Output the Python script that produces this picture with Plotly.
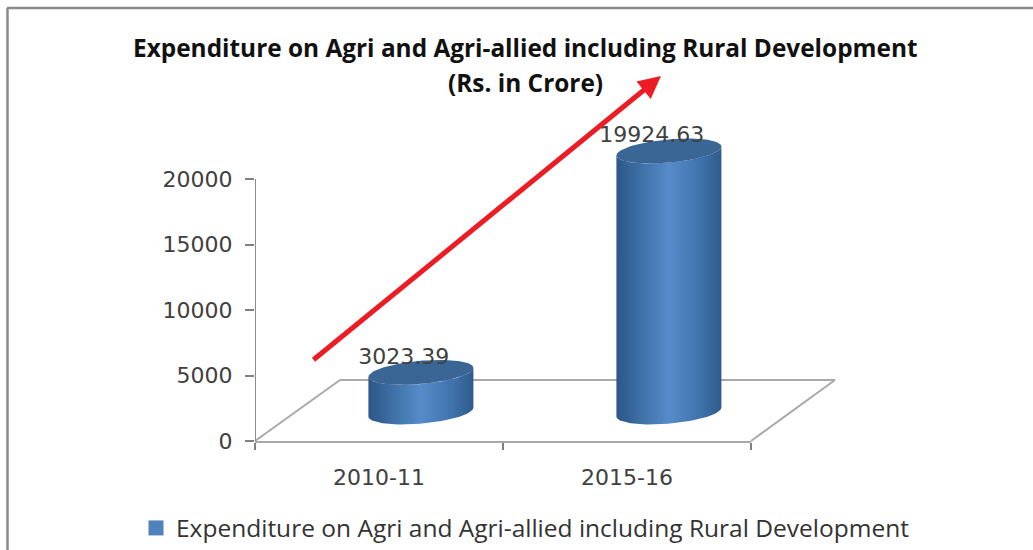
import numpy as np
import plotly.graph_objects as go

# --- data ---
categories = ["2010-11", "2015-16"]
values = [3023.39, 19924.63]
value_labels = ["3023.39", "19924.63"]
y_ticks = [0, 5000, 10000, 15000, 20000]
series_name = "Expenditure on Agri and Agri-allied including Rural Development"
title_lines = ["Expenditure on Agri and Agri-allied including Rural Development", "(Rs. in Crore)"]

W, H = 1033, 550
L, R, B, T = 255, 751, 441, 179   # plot rectangle in pixels, for 0 to 20000
Y_MAX = 27000                     # headroom so the 3-D cap and label stay visible
T_EXT = B - (B - T) * Y_MAX / 20000

# 3-D look, in axis units
DEPTH_X = 0.169     # sideways shift of bar bases into the floor
DEPTH_Y = 2214      # upward shift of bar bases into the floor
RX = 0.2117         # cylinder half width
RY = 890            # ellipse half height
TILT = 340          # ellipse tilt
LABEL_DX = 0.10
LABEL_DY = 3290

t_front = np.linspace(np.pi, 2 * np.pi, 60)
t_full = np.linspace(0, 2 * np.pi, 120)


def ring(cx, cy, t):
    return cx + RX * np.cos(t), cy + RY * np.sin(t) + TILT * np.cos(t)


side_scale = [[0, "#2c5688"], [0.18, "#3a6a9f"], [0.5, "#568cca"], [0.8, "#3f72ab"], [1, "#2f5a8c"]]

fig = go.Figure()

for i, v in enumerate(values):
    cx = i + DEPTH_X
    x_top, y_top = ring(cx, DEPTH_Y + v, t_front)
    x_bot, y_bot = ring(cx, DEPTH_Y, t_front)
    fig.add_trace(go.Scatter(
        x=np.concatenate([x_top, x_bot[::-1]]),
        y=np.concatenate([y_top, y_bot[::-1]]),
        mode="lines", line=dict(width=0), fill="toself",
        fillgradient=dict(type="horizontal", colorscale=side_scale),
        showlegend=False, hoverinfo="skip",
    ))
    x_cap, y_cap = ring(cx, DEPTH_Y + v, t_full)
    fig.add_trace(go.Scatter(
        x=x_cap, y=y_cap, mode="lines", line=dict(width=0), fill="toself",
        fillcolor="#3a6696", showlegend=False, hoverinfo="skip",
    ))

fig.add_trace(go.Scatter(
    x=[i + LABEL_DX for i in range(len(values))],
    y=[v + LABEL_DY for v in values],
    text=value_labels, mode="text",
    textfont=dict(family="DejaVu Sans", size=22, color="#404040"),
    showlegend=False,
))

# legend entry
fig.add_trace(go.Scatter(
    x=[0], y=[None], mode="markers", name=series_name,
    marker=dict(symbol="square", size=15, color="#4f81bd"),
))


def px(x):
    return x / W


def py(y):
    return 1 - y / H


FLOOR = "#a9a9a9"
shapes = [
    # floor outline
    dict(type="line", xref="paper", yref="paper", x0=px(255), y0=py(441), x1=px(340), y1=py(380), line=dict(color=FLOOR, width=2), layer="below"),
    dict(type="line", xref="paper", yref="paper", x0=px(340), y0=py(380), x1=px(835), y1=py(380), line=dict(color=FLOOR, width=2), layer="below"),
    dict(type="line", xref="paper", yref="paper", x0=px(835), y0=py(380), x1=px(751), y1=py(441), line=dict(color=FLOOR, width=2), layer="below"),
    # value axis line, stopping at the top tick
    dict(type="line", xref="x", yref="y", x0=-0.5, y0=y_ticks[0], x1=-0.5, y1=y_ticks[-1], line=dict(color="#8c8c8c", width=2)),
    # outer frame
    dict(type="line", xref="paper", yref="paper", x0=px(7), y0=py(8), x1=1, y1=py(8), line=dict(color="#8a8a8a", width=2.5)),
    dict(type="line", xref="paper", yref="paper", x0=px(7.5), y0=py(8), x1=px(7.5), y1=0, line=dict(color="#8a8a8a", width=2.5)),
]

annotations = [
    dict(text=f"<b>{title_lines[0]}</b>", xref="paper", yref="paper", x=px(525), y=py(47), yanchor="middle", showarrow=False,
         font=dict(family="Open Sans", size=24.4, color="#111111")),
    dict(text=f"<b>{title_lines[1]}</b>", xref="paper", yref="paper", x=px(525), y=py(83), yanchor="middle", showarrow=False,
         font=dict(family="Open Sans", size=24.4, color="#111111")),
    dict(text="", xref="paper", yref="paper", axref="pixel", ayref="pixel",
         x=px(661), y=py(76), ax=312 - 661, ay=361 - 76, showarrow=True,
         arrowhead=2, arrowsize=0.9, arrowwidth=5, arrowcolor="#ed1c24"),
]

fig.update_layout(
    width=W, height=H, autosize=False,
    margin=dict(l=0, r=0, t=0, b=0, autoexpand=False),
    paper_bgcolor="white", plot_bgcolor="rgba(0,0,0,0)",
    xaxis=dict(
        domain=[L / W, R / W], range=[-0.5, 1.5], tickmode="array",
        tickvals=[0, 1], ticktext=categories, ticks="", showgrid=False, zeroline=False,
        showline=True, linecolor=FLOOR, linewidth=2,
        minor=dict(tickmode="array", tickvals=[-0.5, 0.5, 1.5], ticks="outside", ticklen=7, tickcolor="#808080", tickwidth=2, showgrid=False),
        tickfont=dict(family="DejaVu Sans", size=22, color="#404040"),
        ticklabelstandoff=16,
    ),
    yaxis=dict(
        domain=[1 - B / H, 1 - T_EXT / H], range=[0, Y_MAX], tickmode="array",
        tickvals=y_ticks, ticktext=[str(t) for t in y_ticks], ticks="outside", ticklen=9,
        tickcolor="#808080", tickwidth=2, showgrid=False, zeroline=False,
        showline=False,
        tickfont=dict(family="DejaVu Sans", size=22, color="#404040"),
        ticklabelstandoff=8,
    ),
    showlegend=True,
    legend=dict(x=px(136), y=py(528), xanchor="left", yanchor="middle", itemsizing="trace",
                bgcolor="rgba(0,0,0,0)", font=dict(family="Open Sans", size=24.5, color="#333333")),
    shapes=shapes, annotations=annotations,
)

fig.write_html("out.html", config={"displayModeBar": False},
               post_script="document.body.style.margin='0';document.body.style.overflow='hidden';")
